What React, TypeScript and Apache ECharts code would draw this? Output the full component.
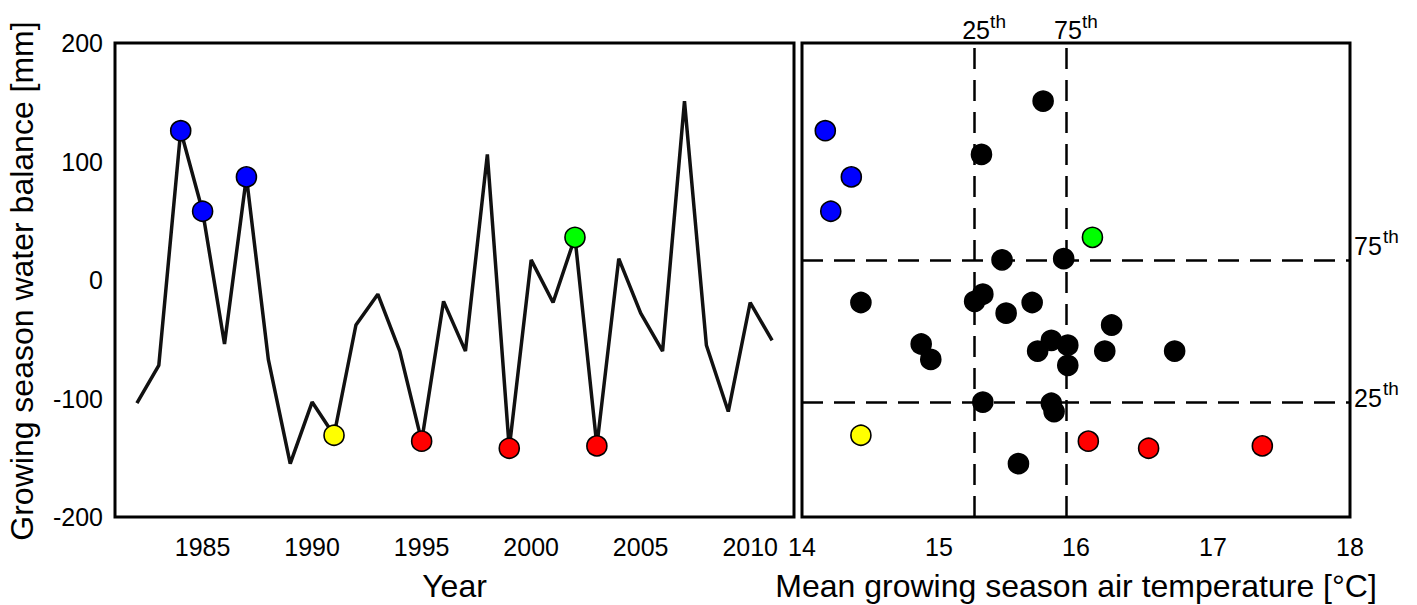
import React, { useEffect, useRef } from "react";
import * as echarts from "echarts";

// ---------------- data ----------------
const years = [
  1982, 1983, 1984, 1985, 1986, 1987, 1988, 1989, 1990, 1991,
  1992, 1993, 1994, 1995, 1996, 1997, 1998, 1999, 2000, 2001,
  2002, 2003, 2004, 2005, 2006, 2007, 2008, 2009, 2010, 2011,
];
// growing season water balance [mm]
const waterBalance = [
  -104, -72, 126, 58, -54, 87, -67, -155, -103, -131,
  -38, -12, -60, -136, -18, -60, 106, -142, 17, -19,
  36, -140, 18, -28, -60, 151, -55, -111, -19, -51,
];
// mean growing season air temperature [°C]
const airTemperature = [
  15.82, 15.94, 14.17, 14.21, 14.87, 14.36, 14.94, 15.58, 15.32, 14.43,
  16.26, 15.32, 15.72, 16.09, 15.26, 16.21, 15.31, 16.53, 15.46, 15.68,
  16.12, 17.36, 15.91, 15.49, 16.72, 15.76, 15.94, 15.84, 14.43, 15.82,
];
const coldWetYears = [1984, 1985, 1987];
const coldDryYears = [1991];
const warmDryYears = [1995, 1999, 2003];
const warmWetYears = [2002];
const yearTicks = [1985, 1990, 1995, 2000, 2005, 2010];
const percentileNames = ["25", "75"];
const temperaturePercentiles = [15.26, 15.93];
const balancePercentiles = [-103, 17];

const FONT = "Liberation Sans, Arial, Helvetica, sans-serif";

function colorOf(year: number): string | null {
  if (coldWetYears.includes(year)) return "#0000ff";
  if (coldDryYears.includes(year)) return "#ffff00";
  if (warmDryYears.includes(year)) return "#ff0000";
  if (warmWetYears.includes(year)) return "#00ff00";
  return null;
}

export default function App() {
  const ref = useRef<HTMLDivElement>(null);

  useEffect(() => {
    if (!ref.current) return;
    const chart = echarts.init(ref.current, null, { renderer: "svg" });

    const tickLabel = { fontSize: 25, color: "#000", fontFamily: FONT };

    const leftPoints = years
      .map((y, i) => ({ y, v: waterBalance[i], c: colorOf(y) }))
      .filter((d) => d.c)
      .map((d) => ({ value: [d.y, d.v], itemStyle: { color: d.c as string } }));

    const rightPoints = years.map((y, i) => ({
      value: [airTemperature[i], waterBalance[i]],
      itemStyle: { color: colorOf(y) || "#000000" },
    }));

    const option: any = {
      animation: false,
      backgroundColor: "#ffffff",
      textStyle: { fontFamily: FONT },
      grid: [
        { left: 115, top: 43, width: 679, height: 474, show: true, borderColor: "#000", borderWidth: 3, backgroundColor: "transparent" },
        { left: 802, top: 43, width: 548, height: 474, show: true, borderColor: "#000", borderWidth: 3, backgroundColor: "transparent" },
      ],
      xAxis: [
        {
          gridIndex: 0, type: "value", min: 1981, max: 2012,
          axisLine: { show: false }, axisTick: { show: false }, splitLine: { show: false },
          axisLabel: { ...tickLabel, margin: 17, customValues: yearTicks, formatter: (v: number) => String(v) },
        },
        {
          gridIndex: 1, type: "value", min: 14, max: 18, interval: 1,
          axisLine: { show: false }, axisTick: { show: false }, splitLine: { show: false },
          axisLabel: { ...tickLabel, margin: 17, formatter: (v: number) => String(v) },
        },
      ],
      yAxis: [
        {
          gridIndex: 0, type: "value", min: -200, max: 200, interval: 100,
          axisLine: { show: false }, axisTick: { show: false }, splitLine: { show: false },
          axisLabel: { ...tickLabel, margin: 12, padding: [6, 0, 0, 0], formatter: (v: number) => String(v) },
        },
        {
          gridIndex: 1, type: "value", min: -200, max: 200, interval: 100,
          axisLine: { show: false }, axisTick: { show: false }, splitLine: { show: false },
          axisLabel: { show: false },
        },
      ],
      series: [
        {
          type: "line", xAxisIndex: 0, yAxisIndex: 0, z: 2,
          data: years.map((y, i) => [y, waterBalance[i]]),
          showSymbol: false, symbol: "none",
          lineStyle: { color: "#111111", width: 3.5 },
          silent: true,
        },
        {
          type: "scatter", xAxisIndex: 0, yAxisIndex: 0, z: 3,
          data: leftPoints, symbolSize: 20,
          itemStyle: { borderColor: "#000", borderWidth: 1.6, opacity: 1 },
          silent: true,
        },
        {
          type: "scatter", xAxisIndex: 1, yAxisIndex: 1, z: 1,
          data: [], silent: true,
          markLine: {
            z: 1,
            silent: true, symbol: ["none", "none"], animation: false,
            label: { show: false },
            lineStyle: { color: "#000", width: 2.5, type: [21, 11] },
            emphasis: { disabled: true },
            data: [
              ...temperaturePercentiles.map((t) => ({ xAxis: t })),
              ...balancePercentiles.map((b) => ({ yAxis: b })),
            ],
          },
        },
        {
          type: "scatter", xAxisIndex: 1, yAxisIndex: 1, z: 3,
          data: rightPoints, symbolSize: 20,
          itemStyle: { borderColor: "#000", borderWidth: 1.6, opacity: 1 },
          silent: true,
        },
      ],
    };

    chart.setOption(option);

    const txt = (text: string, x: number, y: number, size: number, align: string, extra: any = {}) => ({
      type: "text", x, y, silent: true, ...extra,
      style: {
        text, fontSize: size, fontFamily: FONT, fill: "#000",
        align, textAlign: align, verticalAlign: "middle", textVerticalAlign: "middle",
      },
    });

    const graphics: any[] = [];
    // axis titles
    graphics.push(txt("Growing season water balance [mm]", 22, 281, 32, "center", { rotation: Math.PI / 2 }));
    graphics.push(txt("Year", 115 + 679 / 2, 586, 32, "center"));
    graphics.push(txt("Mean growing season air temperature [°C]", 802 + 548 / 2, 586, 32, "center"));

    // percentile labels
    const topY = (chart.convertToPixel({ gridIndex: 1 } as any, [14, 200]) as number[])[1];
    const rightX = (chart.convertToPixel({ gridIndex: 1 } as any, [18, 0]) as number[])[0];
    temperaturePercentiles.forEach((t, i) => {
      const px = (chart.convertToPixel({ gridIndex: 1 } as any, [t, 0]) as number[])[0];
      graphics.push(txt(percentileNames[i], px + 1.5, topY - 13, 25, "center"));
      graphics.push(txt("th", px + 15.5, topY - 22, 19, "left"));
    });
    const rightOffsets = [4, 13.5];
    balancePercentiles.forEach((b, i) => {
      const py = (chart.convertToPixel({ gridIndex: 1 } as any, [14, b]) as number[])[1];
      graphics.push(txt(percentileNames[i], rightX + 4, py - rightOffsets[i], 25, "left"));
      graphics.push(txt("th", rightX + 33, py - rightOffsets[i] - 10, 19, "left"));
    });

    chart.setOption({ graphic: { elements: graphics } });

    return () => chart.dispose();
  }, []);

  return (
    <div
      ref={ref}
      style={{ position: "fixed", left: 0, top: 0, width: 1417, height: 605, background: "#fff" }}
    />
  );
}
